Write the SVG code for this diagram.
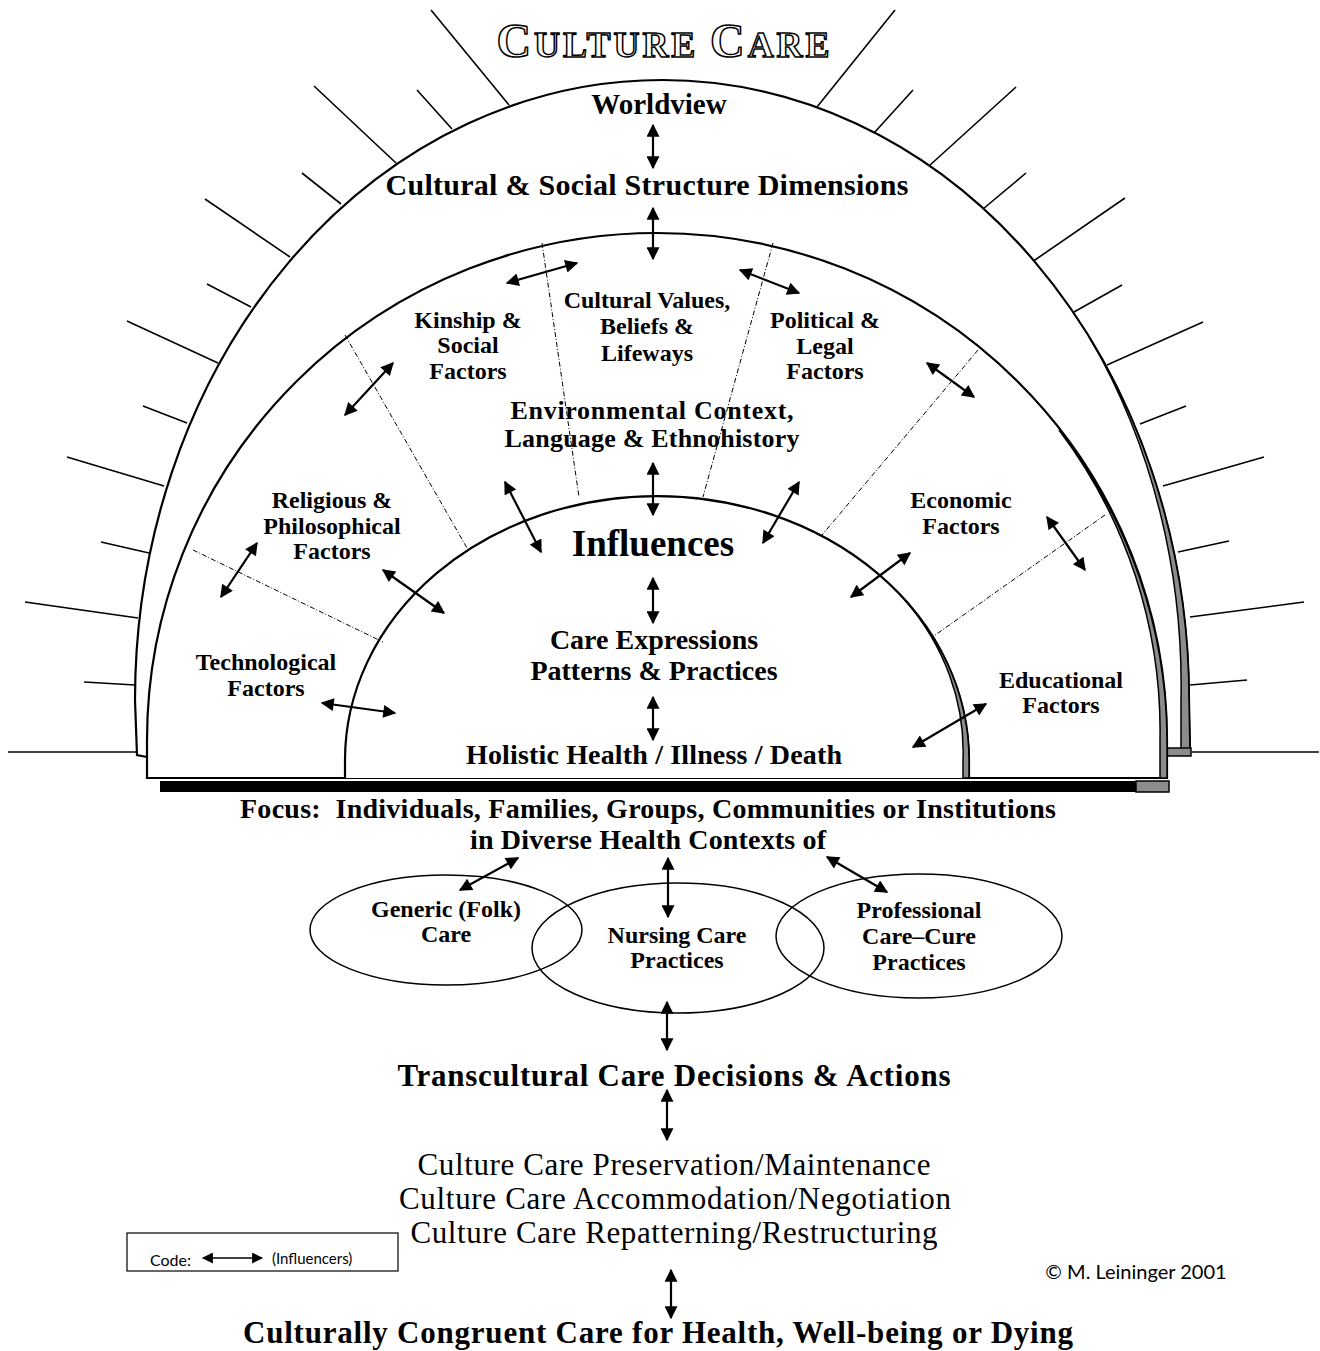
<svg xmlns="http://www.w3.org/2000/svg" width="1320" height="1351" viewBox="0 0 1320 1351">
<style>
.b{font-family:"Liberation Serif","Times New Roman",serif;font-weight:bold;fill:#000;text-anchor:middle}
.r{font-family:"Liberation Serif","Times New Roman",serif;fill:#000;text-anchor:middle}
.lab{font-size:24px}
.s{font-family:Lato,"Open Sans",sans-serif;fill:#000}
.ray{stroke:#000;stroke-width:1.6;fill:none}
.arch{stroke:#000;stroke-width:2.2;fill:#fff}
.sep{stroke:#000;stroke-width:1;fill:none;stroke-dasharray:5 2 1 2}
.arr{stroke:#000;stroke-width:2.2;fill:none;marker-start:url(#ah);marker-end:url(#ah)}
.band{fill:#8c8c8c;stroke:#000;stroke-width:1.5}
</style>
<defs>
<marker id="ah" viewBox="0 0 10 10" refX="9" refY="5" markerWidth="15" markerHeight="13" markerUnits="userSpaceOnUse" orient="auto-start-reverse"><path d="M0,0 L10,5 L0,10 z" fill="#000"/></marker>
<marker id="ahs" viewBox="0 0 10 10" refX="9" refY="5" markerWidth="14" markerHeight="11" markerUnits="userSpaceOnUse" orient="auto-start-reverse"><path d="M0,0 L10,5 L0,10 z" fill="#000"/></marker>
</defs>
<rect width="1320" height="1351" fill="#fff"/>

<g id="rays">
<line class="ray" x1="431" y1="10" x2="509" y2="105"/>
<line class="ray" x1="417" y1="90" x2="452" y2="129"/>
<line class="ray" x1="314" y1="86" x2="396" y2="163"/>
<line class="ray" x1="302" y1="173" x2="341" y2="204"/>
<line class="ray" x1="205" y1="199" x2="290" y2="257"/>
<line class="ray" x1="207" y1="284" x2="251" y2="307"/>
<line class="ray" x1="127" y1="321" x2="218" y2="363"/>
<line class="ray" x1="143" y1="406" x2="187" y2="423"/>
<line class="ray" x1="67" y1="457" x2="164" y2="486"/>
<line class="ray" x1="101" y1="542" x2="149" y2="553"/>
<line class="ray" x1="25" y1="602" x2="138" y2="618"/>
<line class="ray" x1="84" y1="682" x2="135" y2="685"/>
<line class="ray" x1="8" y1="752" x2="137" y2="752"/>
<line class="ray" x1="895" y1="10" x2="817" y2="107"/>
<line class="ray" x1="913" y1="90" x2="874" y2="133"/>
<line class="ray" x1="1016" y1="87" x2="929" y2="166"/>
<line class="ray" x1="1026" y1="173" x2="983" y2="209"/>
<line class="ray" x1="1125" y1="198" x2="1032" y2="262"/>
<line class="ray" x1="1122" y1="285" x2="1074" y2="312"/>
<line class="ray" x1="1203" y1="322" x2="1107" y2="365"/>
<line class="ray" x1="1186" y1="406" x2="1140" y2="424"/>
<line class="ray" x1="1264" y1="457" x2="1163" y2="486"/>
<line class="ray" x1="1229" y1="541" x2="1178" y2="552"/>
<line class="ray" x1="1304" y1="602" x2="1190" y2="617"/>
<line class="ray" x1="1247" y1="680" x2="1190" y2="685"/>
<line class="ray" x1="1319" y1="752" x2="1192" y2="752"/>
</g>

<g id="outer-arch">
<path class="arch" d="M147,757 L137,755 L135,700 A527,620 0 0 1 1189,700 L1190,752 L1168,752"/>
<path class="band" d="M1091,340 A527,620 0 0 1 1189,700 L1190,752 L1181,752 L1181,700 A519,613 0 0 0 1091,340 Z"/>
<rect x="1167" y="748" width="24" height="8" class="band"/>
</g>

<g id="middle-arch">
<path class="arch" d="M147,778 L147,740 A510,507 0 0 1 1167,740 L1167,778 Z"/>
<path class="band" d="M1059,430 A510,507 0 0 1 1167,740 L1167,778 L1160,778 L1160,740 A503,500 0 0 0 1059,430 Z"/>
</g>

<g id="inner-arch">
<path class="arch" d="M345,778 L345,760 A312,264 0 0 1 969,760 L969,778"/>
<path class="band" d="M905,600 A312,264 0 0 1 969,760 L969,778 L963,778 L963,760 A306,258 0 0 0 905,600 Z"/>
</g>

<g id="separators">
<line class="sep" x1="542" y1="243" x2="579" y2="497"/>
<line class="sep" x1="345" y1="335" x2="467" y2="548"/>
<line class="sep" x1="193" y1="550" x2="383" y2="642"/>
<line class="sep" x1="773" y1="243" x2="703" y2="497"/>
<line class="sep" x1="978" y1="350" x2="822" y2="535"/>
<line class="sep" x1="1105" y1="515" x2="931" y2="638"/>
</g>

<g id="base">
<rect x="160" y="781" width="977" height="11" fill="#000"/>
<rect x="1136" y="781" width="33" height="11" class="band"/>
</g>

<g id="ellipses">
<ellipse id="generic" cx="446" cy="930" rx="136" ry="55" fill="none" stroke="#000" stroke-width="1.5"/>
<ellipse id="nursing" cx="678" cy="948" rx="146" ry="65" fill="none" stroke="#000" stroke-width="1.5"/>
<ellipse id="professional" cx="919" cy="936" rx="143" ry="62" fill="none" stroke="#000" stroke-width="1.5"/>
</g>

<g id="connectors">
<line class="arr" x1="653" y1="125" x2="653" y2="168"/>
<line class="arr" x1="653" y1="208" x2="653" y2="259"/>
<line class="arr" x1="507" y1="283" x2="577" y2="263"/>
<line class="arr" x1="740" y1="270" x2="799" y2="293"/>
<line class="arr" x1="345" y1="415" x2="393" y2="363"/>
<line class="arr" x1="927" y1="363" x2="974" y2="397"/>
<line class="arr" x1="257" y1="543" x2="221" y2="597"/>
<line class="arr" x1="383" y1="570" x2="444" y2="613"/>
<line class="arr" x1="505" y1="482" x2="541" y2="552"/>
<line class="arr" x1="653" y1="463" x2="653" y2="515"/>
<line class="arr" x1="799" y1="482" x2="763" y2="543"/>
<line class="arr" x1="653" y1="578" x2="653" y2="623"/>
<line class="arr" x1="910" y1="553" x2="851" y2="597"/>
<line class="arr" x1="1047" y1="517" x2="1085" y2="570"/>
<line class="arr" x1="653" y1="697" x2="653" y2="740"/>
<line class="arr" x1="322" y1="703" x2="395" y2="713"/>
<line class="arr" x1="986" y1="704" x2="913" y2="747"/>
<line class="arr" x1="460" y1="890" x2="518" y2="858"/>
<line class="arr" x1="668" y1="858" x2="668" y2="917"/>
<line class="arr" x1="827" y1="857" x2="887" y2="892"/>
<line class="arr" x1="667" y1="1002" x2="667" y2="1050"/>
<line class="arr" x1="667" y1="1090" x2="667" y2="1140"/>
<line class="arr" x1="671" y1="1270" x2="671" y2="1318"/>
</g>

<g id="title">
<text x="663" y="57" text-anchor="middle" textLength="333" lengthAdjust="spacing" font-family="'Liberation Serif','Times New Roman',serif" font-weight="bold" fill="#fff" stroke="#000" stroke-width="1.5"><tspan font-size="48">C</tspan><tspan font-size="36">ULTURE </tspan><tspan font-size="48">C</tspan><tspan font-size="36">ARE</tspan></text>
</g>

<g id="worldview"><text class="b" x="659" y="114" font-size="29">Worldview</text></g>
<g id="cultural-social"><text class="b" x="647" y="195" font-size="30" textLength="523">Cultural &amp; Social Structure Dimensions</text></g>
<g id="kinship"><text class="b lab" x="468" y="328">Kinship &amp;</text><text class="b lab" x="468" y="353">Social</text><text class="b lab" x="468" y="379">Factors</text></g>
<g id="values"><text class="b lab" x="647" y="308">Cultural Values,</text><text class="b lab" x="647" y="334">Beliefs &amp;</text><text class="b lab" x="647" y="361">Lifeways</text></g>
<g id="political"><text class="b lab" x="825" y="328">Political &amp;</text><text class="b lab" x="825" y="354">Legal</text><text class="b lab" x="825" y="379">Factors</text></g>
<g id="environment"><text class="b" x="652" y="419" font-size="26" textLength="283">Environmental Context,</text><text class="b" x="652" y="447" font-size="26" textLength="295">Language &amp; Ethnohistory</text></g>
<g id="religious"><text class="b lab" x="332" y="508">Religious &amp;</text><text class="b lab" x="332" y="534">Philosophical</text><text class="b lab" x="332" y="559">Factors</text></g>
<g id="economic"><text class="b lab" x="961" y="508">Economic</text><text class="b lab" x="961" y="534">Factors</text></g>
<g id="influences"><text class="b" x="653" y="556" font-size="37">Influences</text></g>
<g id="care-expressions"><text class="b" x="654" y="649" font-size="28">Care Expressions</text><text class="b" x="654" y="680" font-size="28">Patterns &amp; Practices</text></g>
<g id="technological"><text class="b lab" x="266" y="670">Technological</text><text class="b lab" x="266" y="696">Factors</text></g>
<g id="educational"><text class="b lab" x="1061" y="688">Educational</text><text class="b lab" x="1061" y="713">Factors</text></g>
<g id="holistic"><text class="b" x="654" y="764" font-size="28" textLength="376">Holistic Health / Illness / Death</text></g>
<g id="focus"><text class="b" x="648" y="818" font-size="28" textLength="816" xml:space="preserve">Focus:  Individuals, Families, Groups, Communities or Institutions</text><text class="b" x="648" y="849" font-size="28" textLength="356">in Diverse Health Contexts of</text></g>
<g id="generic-text"><text class="b lab" x="446" y="917">Generic (Folk)</text><text class="b lab" x="446" y="942">Care</text></g>
<g id="nursing-text"><text class="b lab" x="677" y="943">Nursing Care</text><text class="b lab" x="677" y="968">Practices</text></g>
<g id="professional-text"><text class="b lab" x="919" y="918">Professional</text><text class="b lab" x="919" y="944">Care–Cure</text><text class="b lab" x="919" y="970">Practices</text></g>
<g id="transcultural"><text class="b" x="674" y="1086" font-size="31" textLength="553">Transcultural Care Decisions &amp; Actions</text></g>
<g id="modes">
<text class="r" x="674" y="1175" font-size="31" textLength="513">Culture Care Preservation/Maintenance</text>
<text class="r" x="675" y="1209" font-size="31" textLength="552">Culture Care Accommodation/Negotiation</text>
<text class="r" x="674" y="1243" font-size="31" textLength="527">Culture Care Repatterning/Restructuring</text>
</g>
<g id="code">
<rect x="127" y="1233" width="271" height="38" fill="none" stroke="#000" stroke-width="1.2"/>
<text class="s" x="150" y="1266" font-size="16">Code:</text>
<line x1="203" y1="1258" x2="262" y2="1258" stroke="#000" stroke-width="1.5" marker-start="url(#ahs)" marker-end="url(#ahs)"/>
<text class="s" x="272" y="1264" font-size="15">(Influencers)</text>
</g>
<g id="copyright"><text class="s" x="1136" y="1279" font-size="20" text-anchor="middle">© M. Leininger 2001</text></g>
<g id="congruent"><text class="b" x="658" y="1343" font-size="31" textLength="830">Culturally Congruent Care for Health, Well-being or Dying</text></g>
</svg>
